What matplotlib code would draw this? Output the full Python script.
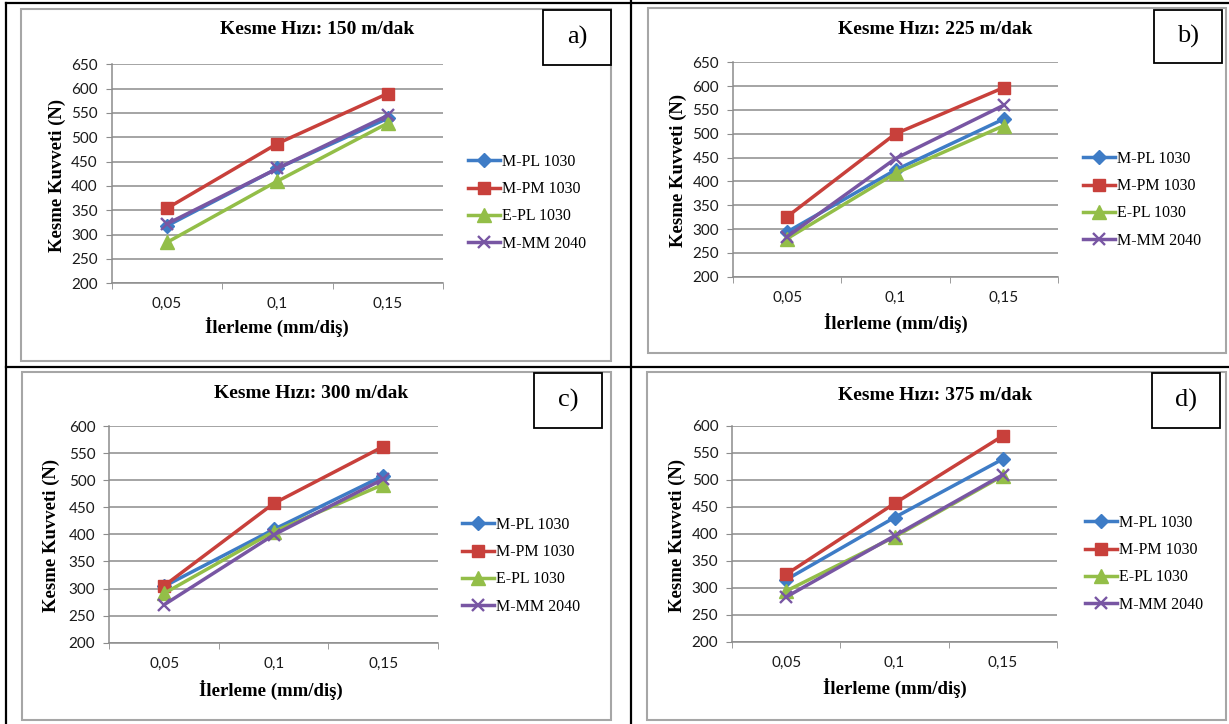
import numpy as np
import matplotlib
matplotlib.use('Agg')
from matplotlib import pyplot as plt
from matplotlib.patches import Rectangle
from matplotlib.lines import Line2D

plt.rcParams['font.family'] = ['Lato', 'DejaVu Sans']
SERIF = ['Liberation Serif', 'DejaVu Serif']

# -- data (cutting force, N) ; rows = cutting speeds, cols = feeds
feeds = ['0,05', '0,1', '0,15']
speeds = [150, 225, 300, 375]
tools = ['M-PL 1030', 'M-PM 1030', 'E-PL 1030', 'M-MM 2040']

m_pl_1030 = [[318, 436, 539], [294, 424, 531], [304, 409, 508], [315, 430, 538]]
m_pm_1030 = [[354, 487, 590], [326, 500, 597], [305, 457, 562], [325, 456, 581]]
e_pl_1030 = [[284, 410, 529], [280, 417, 517], [291, 405, 492], [294, 394, 507]]
m_mm_2040 = [[322, 436, 545], [284, 448, 560], [270, 399, 502], [283, 396, 509]]
y_top = [650, 650, 600, 600]
panel_tags = ['a)', 'b)', 'c)', 'd)']

# -- styles
line_cols = ['#3E7CC6', '#C8403B', '#93BE48', '#7856A3']
mark_cols = ['#3E7CC6', '#C8403B', '#93BE48', '#7856A3']
markers = ['D', 's', '^', 'x']
msizes = [7, 9, 9.5, 8.5]
grid_col = '#8C8C8C'

W, H = 1229, 724
def fx(x): return x / W
def fy(y): return 1 - y / H

# layout in pixels of the reference picture
layout = [
    dict(ax=(111.7, 64.3, 443.0, 283.3), frame=(21, 9, 611, 361), tag=(543, 10, 611, 65),
         title=(317, 30), xl=(277, 327), yl=(57, 175), leg=(468, 154)),
    dict(ax=(733.0, 62.3, 1058.0, 276.7), frame=(648, 8, 1226, 353), tag=(1154, 10, 1222, 63),
         title=(935, 30), xl=(896, 323), yl=(678, 170), leg=(1083, 151)),
    dict(ax=(109.3, 426.0, 438.0, 642.7), frame=(22, 372, 611, 720), tag=(534, 373, 602, 428),
         title=(311, 394), xl=(271, 690), yl=(51, 535), leg=(462, 517)),
    dict(ax=(732.3, 425.7, 1056.7, 641.7), frame=(647, 372, 1226, 720), tag=(1152, 373, 1220, 428),
         title=(935, 395), xl=(895, 688), yl=(677, 535), leg=(1085, 515)),
]

fig = plt.figure(figsize=(W / 100, H / 100), dpi=100)

# table borders
for xs, ys in [([6, 6], [3, 724]), ([631, 631], [0, 724]), ([6, 1229], [3, 3]), ([6, 1229], [367, 367])]:
    fig.add_artist(Line2D([fx(v) for v in xs], [fy(v) for v in ys], transform=fig.transFigure,
                          color='k', lw=1.6))

x = np.arange(len(feeds))
series = [m_pl_1030, m_pm_1030, e_pl_1030, m_mm_2040]

for i, spd in enumerate(speeds):
    L = layout[i]
    l, t, r, b = L['frame']
    fig.add_artist(Rectangle((fx(l), fy(b)), (r - l) / W, (b - t) / H, transform=fig.transFigure,
                             facecolor='white', edgecolor='#A6A6A6', lw=1.5, zorder=0))

    l, t, r, b = L['ax']
    ax = fig.add_axes([fx(l), fy(b), (r - l) / W, (b - t) / H])
    ax.set_facecolor('none')

    for k, name in enumerate(tools):
        ax.plot(x, series[k][i], color=line_cols[k], lw=2.5, marker=markers[k], ms=msizes[k],
                mfc=mark_cols[k], mec=mark_cols[k], mew=1.7 if markers[k] == 'x' else 1,
                label=name, clip_on=False, zorder=3 + k)

    ax.set_xlim(-0.5, len(feeds) - 0.5)
    ax.set_ylim(200, y_top[i])
    ax.set_yticks(np.arange(200, y_top[i] + 1, 50))
    ax.set_xticks(x)
    ax.set_xticklabels(feeds)
    ax.set_xticks(np.arange(-0.5, len(feeds)), minor=True)
    ax.yaxis.grid(True, color=grid_col, lw=1.1)
    ax.set_axisbelow(True)
    for s in ['top', 'right']:
        ax.spines[s].set_visible(False)
    for s in ['left', 'bottom']:
        ax.spines[s].set_color(grid_col)
        ax.spines[s].set_linewidth(1.1)
    ax.tick_params(axis='y', length=4, color=grid_col, pad=6, labelsize=11, labelcolor='#1a1a1a')
    ax.tick_params(axis='x', which='major', length=0, pad=10, labelsize=11, labelcolor='#1a1a1a')
    ax.tick_params(axis='x', which='minor', length=4, color=grid_col)

    fig.text(fx(L['title'][0]), fy(L['title'][1]), 'Kesme Hızı: %d m/dak' % spd, family=SERIF,
             weight='bold', size=14, ha='center', va='center')
    fig.text(fx(L['xl'][0]), fy(L['xl'][1]), 'İlerleme (mm/diş)', family=SERIF,
             weight='bold', size=13.5, ha='center', va='center')
    fig.text(fx(L['yl'][0]), fy(L['yl'][1]), 'Kesme Kuvveti (N)', family=SERIF,
             weight='bold', size=13.5, ha='center', va='center', rotation=90)

    ax.legend(loc='upper left', bbox_to_anchor=(fx(L['leg'][0]), fy(L['leg'][1])),
              bbox_transform=fig.transFigure, frameon=False, borderpad=0, borderaxespad=0,
              handlelength=2.0, handletextpad=0.15, labelspacing=0.7, numpoints=1,
              prop=dict(family=SERIF, size=11.5))

    l, t, r, b = L['tag']
    fig.add_artist(Rectangle((fx(l), fy(b)), (r - l) / W, (b - t) / H, transform=fig.transFigure,
                             facecolor='white', edgecolor='k', lw=1.3, zorder=5))
    fig.text(fx((l + r) / 2), fy((t + b) / 2), panel_tags[i], family=SERIF, size=19,
             ha='center', va='center', zorder=6)

fig.savefig('out.png', dpi=100)
